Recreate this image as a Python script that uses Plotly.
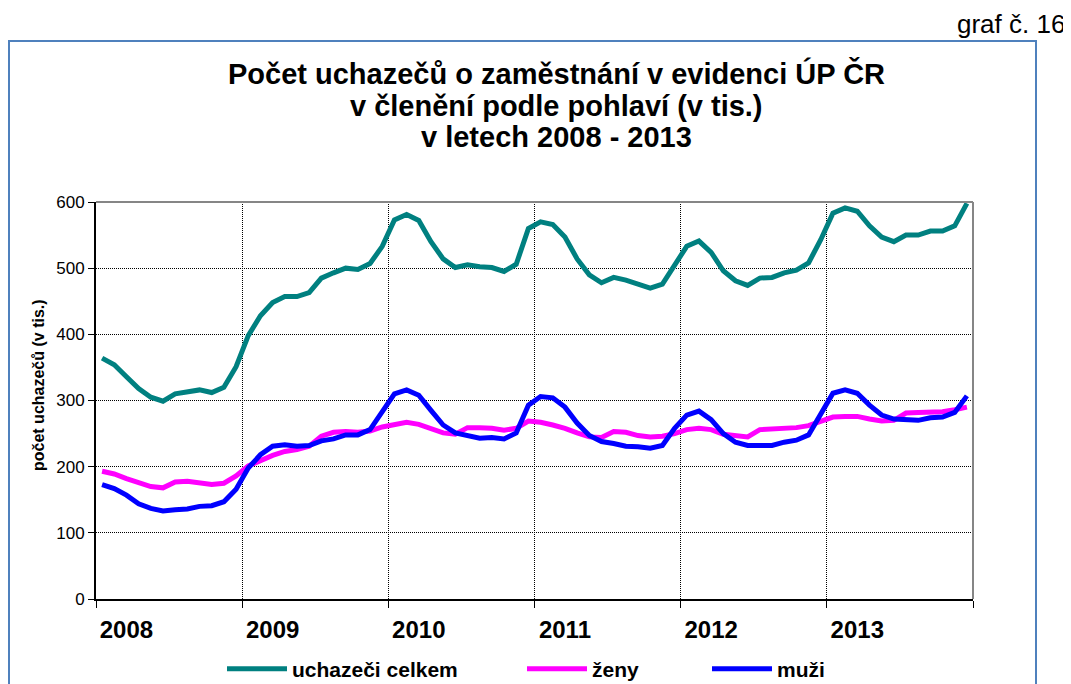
import plotly.graph_objects as go

# ---- data (thousands), monthly Jan 2008 .. Dec 2013 ----
years = ["2008", "2009", "2010", "2011", "2012", "2013"]
months_per_year = 12

celkem = [364, 354, 336, 318, 305, 299, 310, 313, 316, 312, 320, 351,
          398, 428, 448, 457, 457, 463, 485, 493, 500, 498, 507, 533,
          573, 581, 572, 540, 514, 501, 505, 502, 501, 495, 506, 560,
          570, 566, 547, 514, 490, 478, 486, 482, 475, 470, 476, 506,
          533, 541, 524, 496, 481, 474, 485, 486, 493, 497, 508, 543,
          583, 591, 586, 564, 547, 540, 550, 550, 556, 556, 564, 598]

zeny = [193, 189, 182, 176, 170, 168, 177, 178, 175, 173, 175, 186,
        201, 210, 217, 223, 226, 231, 246, 252, 253, 252, 254, 260,
        264, 267, 264, 257, 251, 249, 259, 259, 258, 255, 258, 269,
        267, 263, 258, 251, 245, 244, 253, 252, 247, 245, 246, 250,
        256, 258, 256, 249, 247, 245, 256, 257, 258, 259, 262, 268,
        275, 276, 276, 272, 269, 270, 281, 282, 283, 283, 286, 290]

muzi = [173, 167, 157, 144, 137, 133, 135, 136, 140, 141, 147, 166,
        198, 218, 231, 233, 231, 232, 239, 242, 248, 248, 256, 282,
        310, 316, 308, 285, 263, 251, 247, 243, 244, 242, 251, 293,
        306, 304, 290, 266, 247, 238, 235, 231, 230, 228, 232, 258,
        278, 284, 271, 250, 237, 232, 232, 232, 237, 240, 248, 280,
        311, 316, 311, 293, 278, 272, 271, 270, 274, 275, 282, 307]

series_names = ["uchazeči celkem", "ženy", "muži"]
y_ticks = [0, 100, 200, 300, 400, 500, 600]

# ---- layout geometry ----
# The page body has an 8px margin, so the figure is sized to the window
# minus that offset; positions below are given in window pixels.
OFF = 8
W, H = 1071 - OFF, 684 - OFF
L, R, T, B = 88, 98, 194, 85
PW, PH = W - L - R, H - T - B
FONT = "Liberation Sans, Arial, sans-serif"


def px(xp):
    return (xp - OFF - L) / PW


def py(yp):
    return (H - B - (yp - OFF)) / PH


x = list(range(len(celkem)))
n = len(x)

fig = go.Figure()
colors = ["#008080", "#FF00FF", "#0000FF"]
legends = ["legend", "legend2", "legend3"]
for name, vals, col, lg in zip(series_names, [celkem, zeny, muzi], colors, legends):
    fig.add_trace(go.Scatter(
        x=x, y=vals, mode="lines", name=name,
        line=dict(color=col, width=5), legend=lg,
    ))

boundaries = [k * months_per_year - 0.5 for k in range(len(years) + 1)]
label_pos = [k * months_per_year + 2 for k in range(len(years))]

legend_font = dict(size=21, family=FONT, weight="bold")
leg_common = dict(orientation="h", xanchor="left", yanchor="middle",
                  y=py(669), font=legend_font, bgcolor="rgba(0,0,0,0)",
                  itemwidth=60)

fig.update_layout(
    width=W, height=H,
    margin=dict(l=L, r=R, t=T, b=B, pad=0, autoexpand=False),
    paper_bgcolor="white", plot_bgcolor="white",
    font=dict(family=FONT, color="black"),
    xaxis=dict(
        range=[-0.5, n - 0.5],
        tickvals=label_pos, ticktext=years,
        ticks="", showgrid=False, zeroline=False,
        tickfont=dict(size=24, family=FONT, weight="bold"),
        ticklabelstandoff=8,
        showline=True, linecolor="black", linewidth=2,
        minor=dict(tickvals=boundaries, ticks="outside", ticklen=7,
                   tickwidth=1, tickcolor="black",
                   showgrid=True, gridcolor="black", gridwidth=1,
                   griddash="1px,1px"),
    ),
    yaxis=dict(
        range=[0, 600], tickvals=y_ticks,
        ticks="outside", ticklen=6, tickwidth=1, tickcolor="black",
        tickfont=dict(size=17, family=FONT),
        ticklabelstandoff=0,
        showgrid=True, gridcolor="black", gridwidth=1, griddash="1px,1px",
        zeroline=False,
        showline=True, linecolor="black", linewidth=2,
    ),
    legend=dict(x=px(222), **leg_common),
    legend2=dict(x=px(522), **leg_common),
    legend3=dict(x=px(707), **leg_common),
    showlegend=True,
)

# plot-area top/right border (grey) and outer chart frame (blue)
fig.add_shape(type="line", xref="paper", yref="paper", x0=0, x1=1, y0=1, y1=1,
              line=dict(color="#868686", width=2), layer="above")
fig.add_shape(type="line", xref="paper", yref="paper", x0=1, x1=1, y0=0, y1=1,
              line=dict(color="#868686", width=2), layer="above")
fig.add_shape(type="rect", xref="paper", yref="paper",
              x0=px(9), x1=px(1036), y0=py(700), y1=py(41),
              line=dict(color="#4F81BD", width=2), layer="below")

title_lines = ["Počet uchazečů o zaměstnání v evidenci ÚP ČR",
               "v členění podle pohlaví (v tis.)",
               "v letech 2008 - 2013"]
for i, t in enumerate(title_lines):
    fig.add_annotation(text=t, xref="paper", yref="paper", x=px(556), y=py(73.5 + 32 * i),
                       xanchor="center", yanchor="middle", showarrow=False,
                       font=dict(size=29, family=FONT, weight="bold"))

fig.add_annotation(text="počet uchazečů (v tis.)", xref="paper", yref="paper",
                   x=px(38), y=py(385), xanchor="center", yanchor="middle",
                   textangle=-90, showarrow=False,
                   font=dict(size=16, family=FONT, weight="bold"))

fig.add_annotation(text="graf č. 16", xref="paper", yref="paper",
                   x=px(1067), y=py(24), xanchor="right", yanchor="middle",
                   showarrow=False, font=dict(size=26, family=FONT))

fig.write_html("out.html")
